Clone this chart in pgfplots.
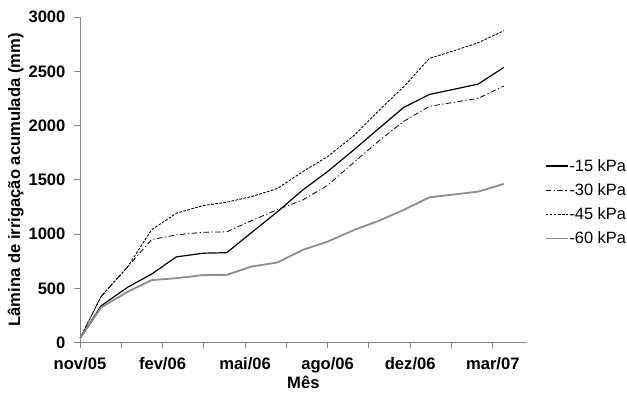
\documentclass[border=0pt]{standalone}
\usepackage{fontspec}
\setmainfont{Liberation Sans}
\usepackage{pgfplots}
\pgfplotsset{compat=1.18}
\usepackage{pgfplotstable}
\definecolor{axgray}{RGB}{134,134,134}
\definecolor{sgray}{RGB}{140,140,140}
\pgfplotstableread{
x   m15  m30  m45  m60
0   40   40   40   40
23  340  426  426  325
52  512  700  700  470
78  632  950  1040 577
105 791  994  1193 595
134 825  1018 1263 623
160 830  1022 1295 626
187 1015 1125 1346 702
215 1205 1226 1420 739
243 1408 1316 1577 856
270 1577 1450 1715 932
299 1780 1665 1910 1040
326 1975 1860 2140 1124
353 2168 2040 2359 1224
381 2287 2178 2619 1340
408 2335 2215 2690 1366
434 2382 2251 2763 1392
462 2536 2364 2873 1463
}\data
\begin{document}
\begin{tikzpicture}
\begin{axis}[
  scale only axis, width=447bp, height=326bp,
  at={(0,0)}, anchor=south west,
  xmin=0, xmax=487, ymin=0, ymax=3000,
  axis lines*=left,
  axis line style={axgray, line width=0.9bp},
  tick style={axgray, line width=0.9bp},
  tick align=outside,
  major tick length=5.5bp,
  xtick={0,45,...,450},
  xticklabels={nov/05,,fev/06,,mai/06,,ago/06,,dez/06,,mar/07},
  ytick={0,500,...,3000},
  /pgf/number format/assume math mode=true,
  /pgf/number format/1000 sep={},
  tick label style={font=\fontsize{16.6bp}{19bp}\selectfont\bfseries, black},
  xticklabel style={yshift=-5.5bp},
  yticklabel style={xshift=-5.5bp},
  xlabel={Mês},
  ylabel={Lâmina de irrigação acumulada (mm)},
  label style={font=\fontsize{16.6bp}{19bp}\selectfont\bfseries},
  xlabel style={at={(axis description cs:0.5,-0.1411)}, anchor=base},
  ylabel style={at={(axis description cs:-0.144,0.5)}, anchor=center, rotate=0},
  legend style={at={(axis description cs:1.0403,0.4316)}, anchor=west, draw=none, fill=none,
    inner sep=0pt, outer sep=0pt, row sep=8.8bp,
    font=\fontsize{16.4bp}{19bp}\selectfont,
    nodes={inner sep=1bp}},
  legend cell align=left,
  legend image code/.code={\draw[#1] (0bp,0bp) -- (22bp,0bp);},
]
\addplot[black, line width=1.2bp] table[x=x, y=m15] {\data};
\addlegendentry{-15 kPa}
\addplot[black, line width=0.8bp, dash pattern=on 5.5bp off 2.5bp on 1.2bp off 2.5bp] table[x=x, y=m30] {\data};
\addlegendentry{-30 kPa}
\addplot[black, line width=0.9bp, dash pattern=on 2.6bp off 1.5bp] table[x=x, y=m45] {\data};
\addlegendentry{-45 kPa}
\addplot[sgray, line width=1.8bp] table[x=x, y=m60] {\data};
\addlegendentry{-60 kPa}
\end{axis}
\useasboundingbox (-80bp,-47bp) rectangle (547bp,343bp);
\end{tikzpicture}
\end{document}
